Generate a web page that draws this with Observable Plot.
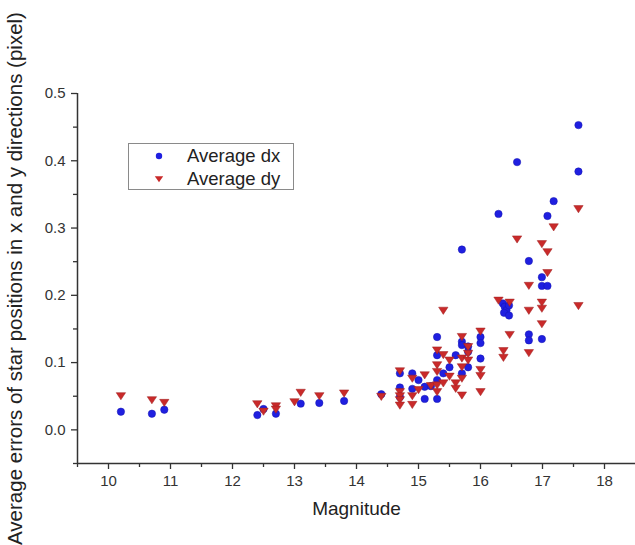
<!DOCTYPE html>
<html>
<head>
<meta charset="utf-8">
<script src="https://cdn.jsdelivr.net/npm/d3@7"></script>
<script src="https://cdn.jsdelivr.net/npm/@observablehq/plot@0.6"></script>
<style>
  body { margin: 0; background: #fff; }
  #wrap { position: relative; width: 635px; height: 545px; font-family: "Liberation Sans", Arial, sans-serif; }
  #legend { position: absolute; left: 128px; top: 143px; width: 164px; height: 45px; border: 1px solid #8a8a8a; background: #fff; }
  #legend .row { position: absolute; left: 0; height: 22px; display: flex; align-items: center; }
  #legend .row span { position: absolute; left: 58px; font-size: 18.5px; color: #222; white-space: nowrap; line-height: 22px; }
  #legend svg { position: absolute; left: 24px; top: 5px; }
</style>
</head>
<body>
<div id="wrap"></div>
<script>
// Data: [magnitude, average error (pixel)]
const averageDx = [
  [10.2,0.027],[10.7,0.024],[10.9,0.030],[12.4,0.022],[12.5,0.031],[12.7,0.024],
  [13.1,0.039],[13.4,0.040],[13.8,0.043],[14.4,0.053],
  [14.7,0.084],[14.7,0.063],[14.7,0.049],
  [14.9,0.084],[14.9,0.061],[15.0,0.074],[15.1,0.064],[15.1,0.046],[15.2,0.065],
  [15.3,0.138],[15.3,0.111],[15.3,0.074],[15.3,0.046],
  [15.4,0.084],[15.5,0.093],[15.6,0.111],
  [15.7,0.268],[15.7,0.131],[15.7,0.126],[15.7,0.084],
  [15.8,0.124],[15.8,0.116],[15.8,0.093],
  [16.0,0.138],[16.0,0.129],[16.0,0.106],
  [16.29,0.321],
  [16.36,0.188],[16.39,0.183],[16.42,0.178],[16.38,0.174],[16.46,0.185],[16.46,0.170],
  [16.59,0.398],
  [16.78,0.251],[16.78,0.142],[16.78,0.133],
  [16.99,0.227],[16.99,0.214],[16.99,0.135],
  [17.08,0.318],[17.08,0.214],[17.18,0.340],
  [17.58,0.453],[17.58,0.384]
];
const averageDy = [
  [10.2,0.050],[10.7,0.044],[10.9,0.040],[12.4,0.038],[12.5,0.027],[12.7,0.035],[12.7,0.030],
  [13.0,0.041],[13.1,0.055],[13.4,0.050],[13.8,0.054],[14.4,0.049],
  [14.7,0.087],[14.7,0.056],[14.7,0.050],[14.7,0.044],[14.7,0.036],
  [14.9,0.076],[14.9,0.050],[14.9,0.037],
  [15.0,0.059],[15.1,0.081],[15.2,0.065],
  [15.3,0.118],[15.3,0.096],[15.3,0.086],[15.3,0.066],[15.3,0.056],
  [15.4,0.177],[15.4,0.111],[15.4,0.069],
  [15.5,0.103],[15.5,0.079],[15.6,0.069],[15.6,0.061],
  [15.7,0.138],[15.7,0.106],[15.7,0.093],[15.7,0.076],[15.7,0.051],
  [15.8,0.123],[15.8,0.113],[15.8,0.103],
  [16.0,0.146],[16.0,0.089],[16.0,0.080],[16.0,0.056],
  [16.29,0.192],[16.37,0.117],[16.37,0.107],[16.47,0.189],[16.47,0.141],
  [16.59,0.283],[16.78,0.214],[16.78,0.177],[16.78,0.114],
  [16.99,0.276],[16.99,0.189],[16.99,0.180],[16.99,0.157],
  [17.08,0.264],[17.08,0.233],[17.18,0.301],[17.58,0.328],[17.58,0.184]
];
const xTicks = [10, 11, 12, 13, 14, 15, 16, 17, 18];
const xMinorTicks = [9.5, 10.5, 11.5, 12.5, 13.5, 14.5, 15.5, 16.5, 17.5];
const yTicks = [0.0, 0.1, 0.2, 0.3, 0.4, 0.5];
const yMinorTicks = [-0.05, 0.05, 0.15, 0.25, 0.35, 0.45];
const seriesNames = ["Average dx", "Average dy"];
const xTitle = "Magnitude";
const yTitle = "Average errors of star positions in x and y directions (pixel)";

const blue = "#1f1fe0";
const red = "#c92a2a";

const triangleDown = {
  draw(context, size) {
    const r = Math.sqrt(size / Math.PI);
    const w = 2.6 * r, h = 2 * r;
    context.moveTo(-w / 2, -h / 2);
    context.lineTo(w / 2, -h / 2);
    context.lineTo(0, h / 2);
    context.closePath();
  }
};

const chart = Plot.plot({
  width: 635,
  height: 545,
  marginLeft: 77,
  marginRight: 0,
  marginTop: 93,
  marginBottom: 82,
  style: { fontFamily: "'Liberation Sans', Arial, sans-serif", fontSize: "15px", color: "#333", background: "white" },
  x: { domain: [9.5, 18.5], axis: null },
  y: { domain: [-0.05, 0.5], axis: null },
  marks: [
    Plot.axisX(xTicks, { tickSize: 6, tickPadding: 6, tickFormat: d => String(d), label: null, fontSize: 15, strokeWidth: 1.3 }),
    Plot.axisX(xMinorTicks, { tickSize: 4, tickFormat: () => "", label: null, strokeWidth: 1.3 }),
    Plot.axisY(yTicks, { tickSize: 6, tickPadding: 6, tickFormat: d3.format(".1f"), label: null, fontSize: 15, strokeWidth: 1.3 }),
    Plot.axisY(yMinorTicks, { tickSize: 4, tickFormat: () => "", label: null, strokeWidth: 1.3 }),
    Plot.ruleY([-0.05], { stroke: "#333", strokeWidth: 1.5 }),
    Plot.ruleX([9.5], { stroke: "#333", strokeWidth: 1.5 }),
    Plot.dot(averageDx, { x: d => d[0], y: d => d[1], r: 3.7, fill: blue, stroke: "#1515b0", strokeWidth: 0.5 }),
    Plot.dot(averageDy, { x: d => d[0], y: d => d[1], r: 3.6, symbol: triangleDown, fill: red, stroke: "#9e1f1f", strokeWidth: 0.5 }),
    Plot.text([xTitle], { text: d => d, frameAnchor: "bottom", dy: 51, fontSize: 19, fill: "#222" }),
    Plot.text([yTitle], { text: d => d, frameAnchor: "left", textAnchor: "middle", dx: -62, dy: 0, rotate: -90, fontSize: 20.5, fill: "#222" })
  ]
});

const wrap = document.getElementById("wrap");
wrap.appendChild(chart);

// Legend (HTML overlay)
const legend = document.createElement("div");
legend.id = "legend";
const symbols = [
  `<circle cx="6" cy="6" r="3.2" fill="${blue}"/>`,
  `<path d="M1.8,3.2 L10.2,3.2 L6,9.2 Z" fill="${red}"/>`
];
seriesNames.forEach((name, i) => {
  const row = document.createElement("div");
  row.className = "row";
  row.style.top = (1 + i * 23) + "px";
  row.innerHTML = `<svg width="12" height="12" viewBox="0 0 12 12">${symbols[i]}</svg><span>${name}</span>`;
  legend.appendChild(row);
});
wrap.appendChild(legend);
</script>
</body>
</html>
